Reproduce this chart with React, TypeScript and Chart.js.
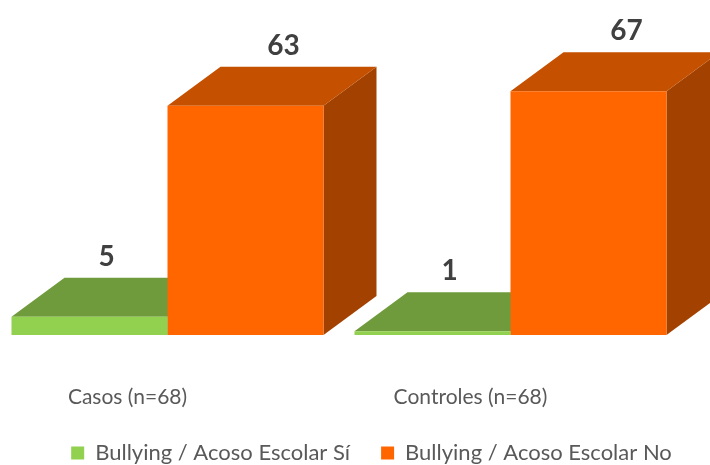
import React, { useEffect, useRef } from 'react';
import { Chart, registerables } from 'chart.js';

Chart.register(...registerables);

// ---- data ----
const categories = ['Casos (n=68)', 'Controles (n=68)'];
const seriesNames = ['Bullying / Acoso Escolar Sí', 'Bullying / Acoso Escolar No'];
const bullyingSi = [5, 1];
const bullyingNo = [63, 67];
const yMin = 0;
const yMax = 80;

// ---- styles ----
const FRONT = ['#92D050', '#FF6600'];
const TOP = ['#6F9B3C', '#C45000'];
const SIDE = ['#5A7E30', '#A34200'];
const DX = 53;
const DY = -39;
const LABEL_SHIFT = [17, 38];
const FONT = 'Lato, "Open Sans", sans-serif';

const box3d = {
  id: 'box3d',
  beforeDatasetsDraw(chart: any) {
    const ctx = chart.ctx;
    ctx.save();
    chart.data.datasets.forEach((_ds: any, di: number) => {
      const meta = chart.getDatasetMeta(di);
      meta.data.forEach((bar: any) => {
        const { x, y, base, width } = bar.getProps(['x', 'y', 'base', 'width'], true);
        const l = x - width / 2;
        const r = x + width / 2;
        ctx.fillStyle = SIDE[di];
        ctx.beginPath();
        ctx.moveTo(r, y);
        ctx.lineTo(r + DX, y + DY);
        ctx.lineTo(r + DX, base + DY);
        ctx.lineTo(r, base);
        ctx.closePath();
        ctx.fill();
        ctx.fillStyle = TOP[di];
        ctx.beginPath();
        ctx.moveTo(l, y);
        ctx.lineTo(l + DX, y + DY);
        ctx.lineTo(r + DX, y + DY);
        ctx.lineTo(r, y);
        ctx.closePath();
        ctx.fill();
      });
    });
    ctx.restore();
  },
  afterDatasetsDraw(chart: any) {
    const ctx = chart.ctx;
    ctx.save();
    ctx.font = `bold 28px ${FONT}`;
    ctx.fillStyle = '#404040';
    ctx.textAlign = 'center';
    ctx.textBaseline = 'middle';
    chart.data.datasets.forEach((ds: any, di: number) => {
      const meta = chart.getDatasetMeta(di);
      meta.data.forEach((bar: any, i: number) => {
        const { x, y } = bar.getProps(['x', 'y'], true);
        ctx.fillText(String(ds.data[i]), x + LABEL_SHIFT[di], y + DY - 21);
      });
    });
    ctx.restore();
  },
};

export default function App() {
  const ref = useRef<HTMLCanvasElement>(null);
  useEffect(() => {
    if (!ref.current) return;
    Chart.defaults.font.family = FONT;
    const chart = new Chart(ref.current, {
      type: 'bar',
      data: {
        labels: categories,
        datasets: [
          { label: seriesNames[0], data: bullyingSi, backgroundColor: FRONT[0], borderWidth: 0 },
          { label: seriesNames[1], data: bullyingNo, backgroundColor: FRONT[1], borderWidth: 0 },
        ],
      },
      options: {
        responsive: false,
        animation: false,
        events: [],
        layout: { padding: { top: 44, left: 0, right: 0, bottom: 0 } },
        datasets: { bar: { categoryPercentage: 0.9096, barPercentage: 1 } },
        plugins: {
          tooltip: { enabled: false },
          legend: {
            position: 'bottom',
            labels: {
              color: '#595959',
              font: { family: FONT, size: 22 },
              boxWidth: 13,
              boxHeight: 13,
              padding: 31,
            },
          },
        },
        scales: {
          x: {
            offset: true,
            grid: { display: false, drawTicks: false },
            border: { display: false },
            ticks: { color: '#595959', font: { family: FONT, size: 21 }, padding: 50, labelOffset: -40 },
            afterFit: (s: any) => { s.height = 76; },
          },
          y: {
            position: 'right',
            min: yMin,
            max: yMax,
            grid: { display: false, drawTicks: false },
            border: { display: false },
            ticks: { display: false },
            afterFit: (s: any) => { s.width = 65; },
          },
        },
      },
      plugins: [box3d],
    } as any);
    return () => chart.destroy();
  }, []);
  return (
    <div style={{ position: 'fixed', left: 0, top: 0, width: 710, height: 465, overflow: 'hidden', background: '#fff' }}>
      <canvas ref={ref} width={751} height={474} style={{ position: 'absolute', left: -4, top: 0 }} />
    </div>
  );
}
